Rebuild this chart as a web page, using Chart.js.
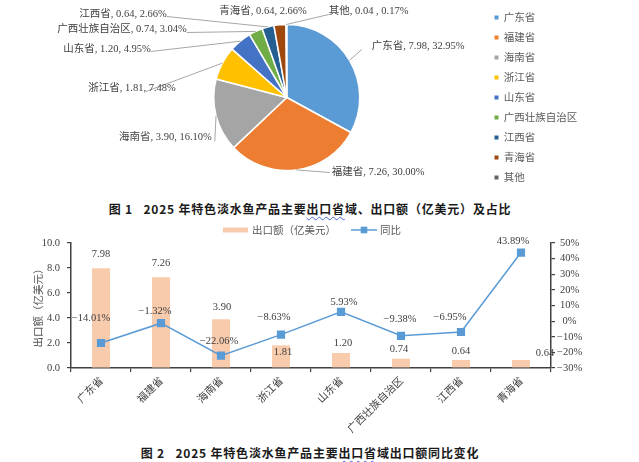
<!DOCTYPE html>
<html lang="zh-CN">
<head>
<meta charset="utf-8">
<title>2025 年特色淡水鱼产品主要出口省域</title>
<script src="https://cdn.jsdelivr.net/npm/chart.js@4.4.1/dist/chart.umd.min.js"></script>
<style>
  html, body { margin: 0; padding: 0; background: #fff; }
  #page { position: relative; width: 639px; height: 462px; overflow: hidden; }
  canvas { position: absolute; left: 0; }
  #pie { top: 0; }
  #combo { top: 220px; }
  .caption {
    position: absolute; left: 310px; transform: translateX(-50%);
    white-space: nowrap; line-height: 16px; color: #1a1a1a;
    font: bold 12px "Noto Sans CJK SC", sans-serif; letter-spacing: 0.8px;
  }
  #cap1 { top: 200px; }
  #cap2 { top: 444px; }
  .squiggle { text-decoration: underline wavy #4a68d8; text-decoration-thickness: 1px; text-underline-offset: 2px; }
</style>
</head>
<body>
<div id="page">
  <canvas id="pie" width="639" height="194"></canvas>
  <div class="caption" id="cap1">图 1&nbsp;&nbsp;&nbsp;2025 年特色淡水鱼产品主要<span class="squiggle">出口省</span>域、出口额（亿美元）及占比</div>
  <canvas id="combo" width="639" height="222"></canvas>
  <div class="caption" id="cap2">图 2&nbsp;&nbsp;&nbsp;2025 年特色淡水鱼产品主要<span class="squiggle">出口省</span>域出口额同比变化</div>
</div>
<script>
//--- Data
var pieProvinces = ['广东省', '福建省', '海南省', '浙江省', '山东省', '广西壮族自治区', '江西省', '青海省', '其他'];
var pieValues = [7.98, 7.26, 3.90, 1.81, 1.20, 0.74, 0.64, 0.64, 0.04];
var pieShares = [32.95, 30.00, 16.10, 7.48, 4.95, 3.04, 2.66, 2.66, 0.17];

var barProvinces = ['广东省', '福建省', '海南省', '浙江省', '山东省', '广西壮族自治区', '江西省', '青海省'];
var exportAmount = [7.98, 7.26, 3.90, 1.81, 1.20, 0.74, 0.64, 0.64];
var yoyChange = [-14.01, -1.32, -22.06, -8.63, 5.93, -9.38, -6.95, 43.89];

var amountTicks = [0, 2, 4, 6, 8, 10];
var yoyTicks = [-30, -20, -10, 0, 10, 20, 30, 40, 50];

//--- Styles
var pieColors = ['#5b9bd5', '#ed7d31', '#a5a5a5', '#ffc000', '#4472c4', '#70ad47', '#255e91', '#9e480e', '#636363'];
var serif = "'Liberation Serif', 'Noto Sans CJK SC', serif";
var sans = "'Noto Sans CJK SC', sans-serif";
var axisColor = '#404040';
var textColor = '#404040';

// label placement relative to the pie centre (Excel moved these by hand)
var pieLabelLayout = [
    { dx: 85, dy: -51, align: 'left', line: [75, -48] },
    { dx: 45, dy: 75, align: 'left', line: [43, 75] },
    { dx: -75, dy: 40, align: 'right', line: [-72, 44] },
    { dx: -111, dy: -9, align: 'right', line: [-141, -6] },
    { dx: -136, dy: -48, align: 'right', line: [-136, -46] },
    { dx: -100, dy: -68, align: 'right', line: [-100, -65] },
    { dx: -120, dy: -83, align: 'right', line: [-120, -81] },
    { dx: 20, dy: -86, align: 'right', line: null },
    { dx: 42, dy: -86, align: 'left', line: [42, -83], sep: ' , ' }
];
// data label offsets from each bar top / point
var barLabelOffsets = [[0, -14], [0, -14], [1, -12], [2, 7], [2, -10], [-2, -10], [0, -9], [24, -7]];
var lineLabelOffsets = [[-10, -25], [-6, -12], [-2, -14], [-7, -17], [3, -10], [-1, -17], [-11, -15], [-8, -11]];

function signed(v, d) {
    return (v < 0 ? '\u2212' : '') + Math.abs(v).toFixed(d);
}

//--- Plugins
var pieLabels = {
    id: 'pieLabels',
    afterDatasetsDraw: function (chart) {
        var ctx = chart.ctx;
        var meta = chart.getDatasetMeta(0);
        ctx.save();
        ctx.font = '10.5px ' + serif;
        ctx.textBaseline = 'middle';
        meta.data.forEach(function (arc, i) {
            var p = arc.getProps(['x', 'y', 'startAngle', 'endAngle', 'outerRadius'], true);
            var mid = (p.startAngle + p.endAngle) / 2;
            var lay = pieLabelLayout[i];
            if (lay.line) {
                ctx.strokeStyle = '#a6a6a6';
                ctx.lineWidth = 1;
                ctx.beginPath();
                ctx.moveTo(p.x + Math.cos(mid) * p.outerRadius, p.y + Math.sin(mid) * p.outerRadius);
                ctx.lineTo(p.x + lay.line[0], p.y + lay.line[1]);
                ctx.stroke();
            }
            var txt = pieProvinces[i] + ', ' + pieValues[i].toFixed(2) + (lay.sep || ', ') + pieShares[i].toFixed(2) + '%';
            ctx.fillStyle = textColor;
            ctx.textAlign = lay.align;
            ctx.fillText(txt, p.x + lay.dx, p.y + lay.dy);
        });
        ctx.restore();
    }
};

var valueLabels = {
    id: 'valueLabels',
    afterDatasetsDraw: function (chart) {
        var ctx = chart.ctx;
        ctx.save();
        ctx.font = '10.5px ' + serif;
        ctx.fillStyle = textColor;
        ctx.textAlign = 'center';
        ctx.textBaseline = 'middle';
        chart.getDatasetMeta(0).data.forEach(function (el, i) {
            ctx.fillText(exportAmount[i].toFixed(2), el.x + barLabelOffsets[i][0], el.y + barLabelOffsets[i][1]);
        });
        chart.getDatasetMeta(1).data.forEach(function (el, i) {
            ctx.fillText(signed(yoyChange[i], 2) + '%', el.x + lineLabelOffsets[i][0], el.y + lineLabelOffsets[i][1]);
        });
        ctx.restore();
    }
};

var comboLegend = {
    id: 'comboLegend',
    afterDraw: function (chart) {
        var ctx = chart.ctx;
        var bar = chart.data.datasets[0], line = chart.data.datasets[1];
        var y = 10;
        ctx.save();
        ctx.fillStyle = bar.backgroundColor;
        ctx.fillRect(223, y - 2.5, 25, 5);
        ctx.strokeStyle = line.borderColor;
        ctx.lineWidth = 1.5;
        ctx.beginPath();
        ctx.moveTo(351, y);
        ctx.lineTo(377, y);
        ctx.stroke();
        ctx.fillStyle = line.backgroundColor;
        ctx.fillRect(364 - 3.3, y - 3.3, 6.6, 6.6);
        ctx.font = '10.5px ' + sans;
        ctx.fillStyle = '#595959';
        ctx.textBaseline = 'middle';
        ctx.textAlign = 'left';
        ctx.fillText(bar.label, 252, y);
        ctx.fillText(line.label, 380, y);
        ctx.restore();
    }
};

//--- Chart 1: pie
new Chart(document.getElementById('pie'), {
    type: 'pie',
    data: {
        labels: pieProvinces,
        datasets: [{
            data: pieValues,
            backgroundColor: pieColors,
            borderColor: '#ffffff',
            borderWidth: 1.5,
            radius: 73
        }]
    },
    options: {
        responsive: false,
        animation: false,
        layout: { padding: { left: 88.5, right: 51.75, top: 1, bottom: 0 } },
        plugins: {
            tooltip: { enabled: false },
            legend: {
                position: 'right',
                labels: {
                    boxWidth: 4,
                    boxHeight: 4,
                    padding: 9.5,
                    color: '#595959',
                    font: { family: sans, size: 10.5 },
                    generateLabels: function (chart) {
                        var items = Chart.overrides.pie.plugins.legend.labels.generateLabels(chart);
                        items.forEach(function (it) { it.lineWidth = 0; });
                        return items;
                    }
                }
            }
        }
    },
    plugins: [pieLabels]
});

//--- Chart 2: bars + year-on-year line
new Chart(document.getElementById('combo'), {
    type: 'bar',
    data: {
        labels: barProvinces,
        datasets: [{
            type: 'bar',
            label: '出口额（亿美元）',
            data: exportAmount,
            backgroundColor: '#f8cbad',
            barPercentage: 0.3,
            categoryPercentage: 1,
            yAxisID: 'y',
            order: 1
        }, {
            type: 'line',
            label: '同比',
            data: yoyChange,
            borderColor: '#5b9bd5',
            backgroundColor: '#5b9bd5',
            borderWidth: 1.5,
            pointStyle: 'rect',
            pointRadius: 5.8,
            pointBorderWidth: 0,
            tension: 0,
            yAxisID: 'y1',
            order: 0
        }]
    },
    options: {
        responsive: false,
        animation: false,
        layout: { padding: { top: 23, left: 0, right: 0, bottom: 0 } },
        plugins: {
            legend: { display: false },
            tooltip: { enabled: false }
        },
        scales: {
            x: {
                offset: true,
                grid: { offset: true, drawOnChartArea: false, tickLength: 4, color: axisColor, lineWidth: 1.2 },
                border: { color: axisColor, width: 1.5 },
                ticks: {
                    autoSkip: false, minRotation: 45, maxRotation: 45, padding: 2,
                    color: textColor, font: { family: sans, size: 10.5 }
                },
                afterFit: function (s) { s.height = 74; }
            },
            y: {
                position: 'left',
                min: amountTicks[0],
                max: amountTicks[amountTicks.length - 1],
                grid: { drawOnChartArea: false, tickLength: 4, color: axisColor, lineWidth: 1.2 },
                border: { color: axisColor, width: 1.5 },
                ticks: {
                    stepSize: amountTicks[1] - amountTicks[0], padding: 7,
                    color: textColor, font: { family: serif, size: 10.5 },
                    callback: function (v) { return v.toFixed(1); }
                },
                title: {
                    display: true, text: '出口额（亿美元）', color: '#595959',
                    font: { family: sans, size: 10.5 }, padding: { top: 32, bottom: 0 }
                },
                afterFit: function (s) { s.width = 71; }
            },
            y1: {
                position: 'right',
                min: yoyTicks[0],
                max: yoyTicks[yoyTicks.length - 1],
                grid: { drawOnChartArea: false, tickLength: 4, color: axisColor, lineWidth: 1.2 },
                border: { color: axisColor, width: 1.5 },
                ticks: {
                    stepSize: yoyTicks[1] - yoyTicks[0], padding: 2, crossAlign: 'center',
                    color: textColor, font: { family: serif, size: 10.5 },
                    callback: function (v) { return signed(v, 0) + '%'; }
                },
                afterFit: function (s) { s.width = 88; }
            }
        }
    },
    plugins: [valueLabels, comboLegend]
});
console.log('charts drawn');
</script>
</body>
</html>
